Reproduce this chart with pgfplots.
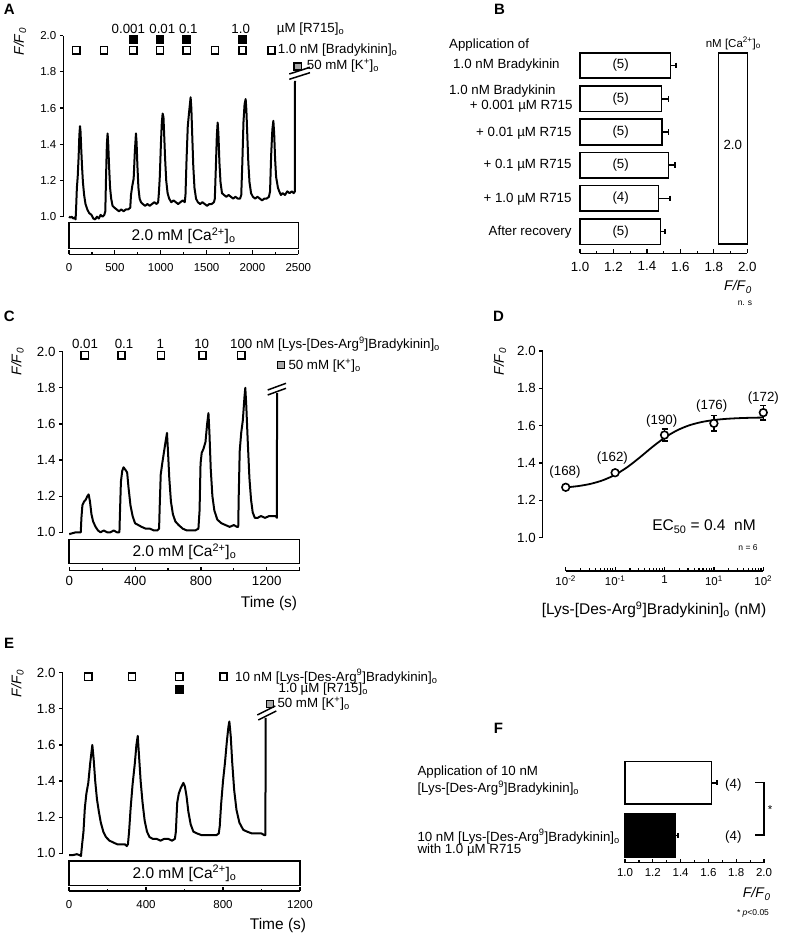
\documentclass[border=0pt]{standalone}
\usepackage{pgfplots}
\pgfplotsset{compat=1.18}
\usepackage{fontspec}
\setmainfont{Liberation Sans}
\newcommand\fa{\fontsize{13.3}{15}\selectfont}
\newcommand\fb{\fontsize{11.5}{13}\selectfont}
\newcommand\fc{\fontsize{15.5}{17}\selectfont}
\newcommand\fy{\fontsize{14}{16}\selectfont}
\newcommand\fd{\fontsize{8.5}{10}\selectfont}
\newcommand\fl{\fontsize{15}{17}\selectfont\bfseries}
\newcommand\FF{\textit{F/F}\textsubscript{\textit{0}}}
\begin{document}
\begin{tikzpicture}
\useasboundingbox (0,0) rectangle (785pt,937pt);
\pgfplotsset{
  trace/.style={scale only axis, clip=false, axis y line=left, axis x line=none,
    axis line style={-, line width=1.2pt}, ymin=1, ymax=2, xtick=\empty,
    ytick={1,1.2,1.4,1.6,1.8,2}, yticklabels={1.0,1.2,1.4,1.6,1.8,2.0},
    tick align=outside, major tick length=3.5pt, tick style={line width=1.2pt, black},
    yticklabel style={font=\fb}},
  xax/.style={scale only axis, height=10pt, ymin=0, ymax=1, axis x line=bottom, axis y line=none,
    axis line style={-, line width=1.2pt}, tick align=inside, major tick length=4pt, minor tick length=2.5pt,
    tick style={line width=1.2pt, black}, ytick=\empty, xticklabel style={font=\fb}},
  sq/.style={only marks, mark=square*, mark size=3.6pt, mark options={line width=1.5pt, draw=black, fill=#1}},
  sq/.default=white,
  tr/.style={black, line width=2pt, line join=round},
}
% ================= Panel A =================
\begin{axis}[trace, at={(63.3pt,720.3pt)}, anchor=south west, width=235pt, height=181pt, xmin=-62, xmax=2500]
\addplot[tr] coordinates {
(0,1.00) (15,0.995) (30,1.00) (45,0.99) (60,0.995) (72,0.985) (78,1.05) (86,1.16) (95,1.22) (105,1.33)
(113,1.45) (120,1.50) (126,1.47) (133,1.38) (142,1.28) (152,1.19) (165,1.12) (180,1.07) (200,1.04) (220,1.02)
(245,1.01) (265,0.99) (285,0.985) (305,1.00) (325,0.99) (345,1.01) (365,1.00) (385,1.01) (396,1.03) (404,1.22)
(413,1.40) (421,1.46) (428,1.40) (437,1.28) (448,1.16) (460,1.10) (475,1.06) (495,1.05) (520,1.04) (545,1.03)
(570,1.04) (595,1.03) (620,1.04) (645,1.04) (668,1.05) (676,1.12) (690,1.17) (705,1.21) (718,1.36) (730,1.46)
(737,1.41) (746,1.28) (757,1.16) (770,1.10) (785,1.08) (805,1.07) (830,1.06) (855,1.07) (880,1.06) (905,1.07)
(930,1.08) (955,1.07) (972,1.08) (980,1.13) (990,1.22) (1002,1.40) (1012,1.52) (1021,1.57) (1030,1.55) (1038,1.45)
(1048,1.32) (1060,1.20) (1075,1.13) (1092,1.10) (1115,1.08) (1140,1.09) (1165,1.08) (1190,1.07) (1215,1.08) (1240,1.09)
(1262,1.08) (1270,1.12) (1282,1.32) (1295,1.50) (1310,1.58) (1326,1.66) (1334,1.60) (1343,1.46) (1355,1.28) (1368,1.16)
(1385,1.10) (1405,1.08) (1430,1.07) (1455,1.08) (1480,1.07) (1505,1.06) (1530,1.07) (1555,1.07) (1580,1.08) (1590,1.10)
(1601,1.27) (1612,1.45) (1621,1.52) (1629,1.46) (1640,1.30) (1652,1.19) (1668,1.13) (1690,1.12) (1715,1.11) (1740,1.12)
(1765,1.11) (1790,1.10) (1815,1.11) (1840,1.10) (1865,1.10) (1878,1.12) (1890,1.30) (1902,1.52) (1914,1.62) (1926,1.65)
(1934,1.59) (1944,1.45) (1955,1.30) (1968,1.19) (1985,1.13) (2005,1.11) (2030,1.10) (2055,1.11) (2080,1.10) (2105,1.09)
(2130,1.10) (2155,1.10) (2180,1.11) (2192,1.14) (2204,1.34) (2217,1.48) (2228,1.53) (2237,1.46) (2247,1.32) (2258,1.22)
(2268,1.19) (2278,1.16) (2292,1.14) (2310,1.12) (2330,1.13) (2355,1.12) (2380,1.14) (2405,1.13) (2430,1.14) (2450,1.13)
(2463,1.14) (2464,1.75)};
\addplot[sq] coordinates {(80,1.92) (382,1.92) (701,1.92) (992,1.92) (1283,1.92) (1592,1.92) (1890,1.92) (2209,1.92)};
\addplot[sq=black] coordinates {(701,1.98) (992,1.98) (1283,1.98) (1890,1.98)};
\addplot[sq=gray!70] coordinates {(2493,1.83)};
\draw[line width=1.5pt] (axis cs:0,0.967) rectangle (axis cs:2500,0.825);
\node[font=\fc] at (axis cs:1250,0.896) {2.0 mM [Ca\textsuperscript{2+}]\textsubscript{o}};
\end{axis}
\begin{axis}[xax, at={(69pt,682.7pt)}, anchor=south west, width=229.3pt, xmin=0, xmax=2500,
  xtick={0,500,1000,1500,2000,2500}, xticklabels={0,500,1000,1500,2000,2500},
  minor xtick={250,750,1250,1750,2250}, xticklabel style={yshift=-6pt}]
\addplot[draw=none] coordinates {(0,0.5)};
\end{axis}
% ================= Panel B =================
\begin{axis}[scale only axis, clip=false, at={(580pt,683.7pt)}, anchor=south west, width=167.3pt, height=213.3pt,
  xmin=0, xmax=1, ymin=0.35, ymax=6.767, axis x line=bottom, axis y line=none,
  axis line style={-,line width=1.2pt}, tick align=inside, major tick length=4pt, minor tick length=2.5pt,
  tick style={line width=1.2pt,black}, xtick={0,0.2,0.4,0.6,0.8,1}, xticklabels={1.0,1.2,1.4,1.6,1.8,2.0},
  minor xtick={0.1,0.3,0.5,0.7,0.9}, ytick=\empty, xticklabel style={font=\fa, yshift=-5pt}]
% bar lengths measured from F/F0 = 1.0 (values F/F0 - 1)
\addplot[xbar, bar shift=0pt, bar width=25.5pt, draw=black, fill=white, line width=1.6pt,
  error bars/.cd, x dir=plus, x explicit, error bar style={line width=1.6pt},
  error mark options={rotate=90, mark size=2.8pt, line width=1.6pt}]
  coordinates {(0.542,6) +- (0.032,0) (0.488,5) +- (0.04,0) (0.49,4) +- (0.04,0) (0.53,3) +- (0.038,0) (0.468,2) +- (0.07,0) (0.48,1) +- (0.028,0)};
\draw[line width=1.6pt] (axis cs:0.827,6.367) rectangle (axis cs:1.0,0.63);
\node[font=\fa] at (axis cs:0.9135,3.61) {2.0};
\node[font=\fa] at (axis cs:0.243,6) {(5)};
\node[font=\fa] at (axis cs:0.243,5) {(5)};
\node[font=\fa] at (axis cs:0.243,4) {(5)};
\node[font=\fa] at (axis cs:0.243,3) {(5)};
\node[font=\fa] at (axis cs:0.243,2) {(4)};
\node[font=\fa] at (axis cs:0.243,1) {(5)};
\end{axis}
% ================= Panel C =================
\begin{axis}[trace, at={(62.5pt,404.7pt)}, anchor=south west, width=237.1pt, height=180.6pt, xmin=-41, xmax=1400,
  yticklabel style={font=\fa}]
\addplot[tr] coordinates {
(0,0.99) (20,0.995) (40,1.00) (60,1.00) (70,1.00) (74,1.08) (80,1.15) (90,1.17) (100,1.18) (110,1.20)
(118,1.21) (126,1.17) (135,1.10) (145,1.06) (160,1.03) (175,1.01) (190,1.00) (210,1.01) (230,1.00) (250,1.00)
(270,1.01) (290,1.00) (305,1.00) (308,1.10) (314,1.28) (322,1.34) (330,1.36) (338,1.35) (346,1.34) (352,1.33)
(360,1.25) (372,1.15) (385,1.09) (400,1.05) (420,1.04) (440,1.03) (465,1.02) (490,1.02) (515,1.01) (535,1.01)
(546,1.02) (550,1.15) (556,1.32) (565,1.38) (575,1.44) (585,1.50) (594,1.55) (600,1.45) (608,1.30) (618,1.17)
(630,1.10) (645,1.06) (665,1.04) (690,1.02) (715,1.01) (740,1.01) (765,1.01) (785,1.02) (792,1.12) (798,1.38)
(805,1.44) (815,1.46) (828,1.50) (838,1.60) (846,1.66) (852,1.55) (860,1.35) (870,1.20) (882,1.12) (900,1.07)
(925,1.05) (950,1.04) (975,1.03) (1000,1.04) (1020,1.03) (1027,1.03) (1030,1.20) (1036,1.45) (1045,1.55) (1055,1.62)
(1065,1.75) (1070,1.80) (1076,1.70) (1085,1.50) (1095,1.30) (1105,1.18) (1115,1.11) (1128,1.08) (1145,1.08) (1165,1.09)
(1190,1.08) (1215,1.09) (1240,1.09) (1255,1.09) (1262,1.08) (1263,1.77)};
\addplot[sq] coordinates {(94,1.98) (317,1.98) (557,1.98) (809,1.98) (1045,1.98)};
\addplot[sq=gray!70] coordinates {(1287,1.926)};
\draw[line width=1.5pt] (axis cs:0,0.961) rectangle (axis cs:1400,0.828);
\node[font=\fc] at (axis cs:700,0.894) {2.0 mM [Ca\textsuperscript{2+}]\textsubscript{o}};
\end{axis}
\begin{axis}[xax, at={(69.3pt,366.3pt)}, anchor=south west, width=230.3pt, xmin=0, xmax=1400,
  xtick={0,400,800,1200,1400}, xticklabels={0,400,800,1200,{}},
  minor xtick={200,600,1000}, xticklabel style={font=\fa, yshift=-2pt}]
\addplot[draw=none] coordinates {(0,0.5)};
\end{axis}
% ================= Panel D =================
\begin{axis}[trace, xmode=log, at={(542.7pt,399.3pt)}, anchor=south west, width=220.6pt, height=186.7pt,
  xmin=0.00342, xmax=100, yticklabel style={font=\fa}]
\addplot[black, line width=1.8pt, smooth] coordinates {
(0.01,1.2694) (0.01778,1.2764) (0.03162,1.2882) (0.05623,1.3075) (0.1,1.337) (0.1778,1.3785) (0.3162,1.430)
(0.5623,1.485) (1,1.535) (1.778,1.5743) (3.162,1.6018) (5.623,1.6194) (10,1.6302) (17.78,1.6365) (31.62,1.6402)
(56.23,1.6423) (100,1.6435)};
\addplot[only marks, mark=*, mark size=3.8pt, mark options={fill=white, draw=black, line width=1.6pt},
  error bars/.cd, y dir=both, y explicit, error bar style={line width=1.6pt},
  error mark options={rotate=90, mark size=3pt, line width=1.6pt}]
  coordinates {(0.01,1.27) +- (0,0.008) (0.1,1.348) +- (0,0.01) (1,1.55) +- (0,0.032) (10,1.6125) +- (0,0.042) (100,1.67) +- (0,0.038)};
\end{axis}
\begin{axis}[xax, xmode=log, at={(565.7pt,366pt)}, anchor=south west, width=197.6pt, xmin=0.01, xmax=100,
  xtick={0.01,0.1,1,10,100},
  xticklabels={10\textsuperscript{-2},10\textsuperscript{-1},1,10\textsuperscript{1},10\textsuperscript{2}},
  minor xtick={0.02,0.03,0.04,0.05,0.06,0.07,0.08,0.09,0.2,0.3,0.4,0.5,0.6,0.7,0.8,0.9,2,3,4,5,6,7,8,9,20,30,40,50,60,70,80,90},
  xticklabel style={yshift=-1pt}]
\addplot[draw=none] coordinates {(1,0.5)};
\end{axis}
% ================= Panel E =================
\begin{axis}[trace, at={(62.5pt,83.7pt)}, anchor=south west, width=237.5pt, height=180.6pt, xmin=-34, xmax=1200,
  yticklabel style={font=\fa}]
\addplot[tr] coordinates {
(0,0.99) (20,0.99) (40,0.995) (55,0.99) (62,0.985) (68,1.05) (75,1.12) (82,1.25) (90,1.33) (100,1.39)
(110,1.50) (121,1.60) (128,1.52) (136,1.40) (145,1.30) (155,1.23) (165,1.17) (178,1.12) (192,1.09) (210,1.07)
(230,1.06) (250,1.05) (270,1.05) (290,1.05) (300,1.04) (306,1.05) (312,1.12) (320,1.25) (330,1.38) (342,1.50)
(350,1.60) (357,1.65) (363,1.55) (372,1.40) (382,1.28) (393,1.18) (405,1.12) (418,1.09) (435,1.08) (455,1.08)
(475,1.07) (495,1.08) (515,1.08) (535,1.07) (550,1.08) (555,1.12) (562,1.28) (570,1.33) (580,1.36) (594,1.39)
(602,1.37) (610,1.32) (620,1.23) (632,1.16) (646,1.12) (665,1.11) (690,1.10) (715,1.10) (740,1.10) (765,1.10)
(778,1.11) (783,1.15) (790,1.27) (800,1.40) (810,1.50) (820,1.62) (828,1.70) (833,1.73) (840,1.65) (848,1.50)
(858,1.35) (870,1.24) (885,1.17) (905,1.13) (925,1.12) (950,1.11) (975,1.11) (1000,1.11) (1015,1.10) (1020,1.10)
(1022,1.75)};
\addplot[sq] coordinates {(100,1.978) (327,1.978) (573,1.978) (802,1.978)};
\addplot[sq=black] coordinates {(573,1.908)};
\addplot[sq=gray!70] coordinates {(1044,1.827)};
\draw[line width=1.5pt] (axis cs:0,0.957) rectangle (axis cs:1200,0.821);
\node[font=\fc] at (axis cs:600,0.889) {2.0 mM [Ca\textsuperscript{2+}]\textsubscript{o}};
\end{axis}
\begin{axis}[xax, at={(69pt,46pt)}, anchor=south west, width=231pt, xmin=0, xmax=1200,
  xtick={0,400,800,1200}, xticklabels={0,400,800,1200},
  minor xtick={200,600,1000}, xticklabel style={yshift=-6pt}]
\addplot[draw=none] coordinates {(0,0.5)};
\end{axis}
% ================= Panel F =================
\begin{axis}[scale only axis, clip=false, at={(625pt,74.3pt)}, anchor=south west, width=139pt, height=106.1pt,
  xmin=0, xmax=1, ymin=0.478, ymax=2.5, axis x line=bottom, axis y line=none,
  axis line style={-,line width=1.2pt}, tick align=inside, major tick length=4pt, minor tick length=2.5pt,
  tick style={line width=1.2pt,black}, xtick={0,0.2,0.4,0.6,0.8,1}, xticklabels={1.0,1.2,1.4,1.6,1.8,2.0},
  minor xtick={0.1,0.3,0.5,0.7,0.9}, ytick=\empty, xticklabel style={font=\fb, yshift=-2pt}]
% bar lengths measured from F/F0 = 1.0 (values F/F0 - 1)
\addplot[xbar, bar shift=0pt, bar width=42.5pt, draw=black, fill=white, line width=1.6pt,
  error bars/.cd, x dir=plus, x explicit, error bar style={line width=1.6pt},
  error mark options={rotate=90, mark size=2.5pt, line width=1.6pt}]
  coordinates {(0.623,2) +- (0.04,0)};
\addplot[xbar, bar shift=0pt, bar width=44pt, draw=black, fill=black, line width=1.6pt,
  error bars/.cd, x dir=plus, x explicit, error bar style={line width=1.6pt},
  error mark options={rotate=90, mark size=2.5pt, line width=1.6pt}]
  coordinates {(0.362,1) +- (0.02,0)};
\end{axis}
% ================= Overlay text =================
\begin{scope}[x=1pt,y=-1pt,shift={(0pt,937pt)}, every node/.style={inner sep=0pt}]
\node[font=\fl] at (9.2,9.5) {A};
\node[font=\fl] at (499.5,9.5) {B};
\node[font=\fl] at (9.2,316.7) {C};
\node[font=\fl] at (498.5,316.7) {D};
\node[font=\fl] at (9.2,643.3) {E};
\node[font=\fl] at (498.5,728.3) {F};
% A
\node[font=\fy, rotate=90] at (20,41.7) {\FF};
\node[font=\fa] at (128.3,29.3) {0.001};
\node[font=\fa] at (162.3,29.3) {0.01};
\node[font=\fa] at (188.3,29.3) {0.1};
\node[font=\fa] at (240.7,29.3) {1.0};
\node[font=\fa, anchor=west] at (276.7,29.3) {µM [R715]\textsubscript{o}};
\node[font=\fa, anchor=west] at (277.7,50) {1.0 nM [Bradykinin]\textsubscript{o}};
\node[font=\fa, anchor=west] at (306.7,65.5) {50 mM [K\textsuperscript{+}]\textsubscript{o}};
\draw[line width=1.5pt] (289.3,74)--(310,67.3);
\draw[line width=1.5pt] (289.3,79.3)--(310,72.7);
% B
\node[font=\fa, anchor=west] at (449,45) {Application of};
\node[font=\fa, anchor=west] at (453,65) {1.0 nM Bradykinin};
\node[font=\fa, anchor=west] at (449,90.7) {1.0 nM Bradykinin};
\node[font=\fa, anchor=east] at (572.7,106.7) {+ 0.001 µM R715};
\node[font=\fa, anchor=east] at (571.7,133) {+ 0.01 µM R715};
\node[font=\fa, anchor=east] at (571.7,165.5) {+ 0.1 µM R715};
\node[font=\fa, anchor=east] at (571.7,199) {+ 1.0 µM R715};
\node[font=\fa, anchor=east] at (571.7,231.7) {After recovery};
\node[font=\fb] at (733.3,43.3) {nM [Ca\textsuperscript{2+}]\textsubscript{o}};
\node[font=\fy] at (738,287) {\FF};
\node[font=\fd] at (745,303) {n. s};
% C
\node[font=\fy, rotate=90] at (17.5,361.7) {\FF};
\node[font=\fa] at (85,344.3) {0.01};
\node[font=\fa] at (124,344.3) {0.1};
\node[font=\fa] at (160.3,344.3) {1};
\node[font=\fa] at (201.7,344.3) {10};
\node[font=\fa, anchor=west] at (230,344.3) {100 nM [Lys-[Des-Arg\textsuperscript{9}]Bradykinin]\textsubscript{o}};
\node[font=\fa, anchor=west] at (288.3,365.5) {50 mM [K\textsuperscript{+}]\textsubscript{o}};
\draw[line width=1.5pt] (267.7,390)--(286,383.3);
\draw[line width=1.5pt] (267.7,395)--(286,388.3);
\node[font=\fc] at (269,603) {Time (s)};
% D
\node[font=\fy, rotate=90] at (500,361.7) {\FF};
\node[font=\fa] at (565,471.7) {(168)};
\node[font=\fa] at (612.3,458.3) {(162)};
\node[font=\fa] at (661.7,420.7) {(190)};
\node[font=\fa] at (711.7,406) {(176)};
\node[font=\fa] at (763.3,398.3) {(172)};
\node[font=\fc] at (704,526.7) {EC\textsubscript{50} = 0.4\ \ nM};
\node[font=\fd] at (748,548) {n = 6};
\node[font=\fc] at (654,610) {[Lys-[Des-Arg\textsuperscript{9}]Bradykinin]\textsubscript{o} (nM)};
% E
\node[font=\fy, rotate=90] at (17.5,683.3) {\FF};
\node[font=\fa, anchor=west] at (235,676.7) {10 nM [Lys-[Des-Arg\textsuperscript{9}]Bradykinin]\textsubscript{o}};
\node[font=\fa, anchor=west] at (278.3,689.3) {1.0 µM [R715]\textsubscript{o}};
\node[font=\fa, anchor=west] at (277.3,703.5) {50 mM [K\textsuperscript{+}]\textsubscript{o}};
\draw[line width=1.5pt] (257.3,715)--(275.3,706);
\draw[line width=1.5pt] (258.3,720)--(276.3,711);
\node[font=\fc] at (278,925) {Time (s)};
% F
\node[font=\fa, anchor=west] at (417.3,772.3) {Application of 10 nM};
\node[font=\fa, anchor=west] at (417.3,788.3) {[Lys-[Des-Arg\textsuperscript{9}]Bradykinin]\textsubscript{o}};
\node[font=\fa, anchor=west] at (417.3,836.7) {10 nM [Lys-[Des-Arg\textsuperscript{9}]Bradykinin]\textsubscript{o}};
\node[font=\fa, anchor=west] at (417.3,850) {with 1.0 µM R715};
\node[font=\fa] at (733.3,785) {(4)};
\node[font=\fa] at (733.3,836.7) {(4)};
\draw[line width=1.5pt] (755,782.7) -- (764,782.7) -- (764,835) -- (755,835);
\node[font=\fb] at (770,810) {*};
\node[font=\fy] at (756.7,894) {\FF};
\node[font=\fd] at (753,913) {* \textit{p}<0.05};
\end{scope}
\end{tikzpicture}
\end{document}
